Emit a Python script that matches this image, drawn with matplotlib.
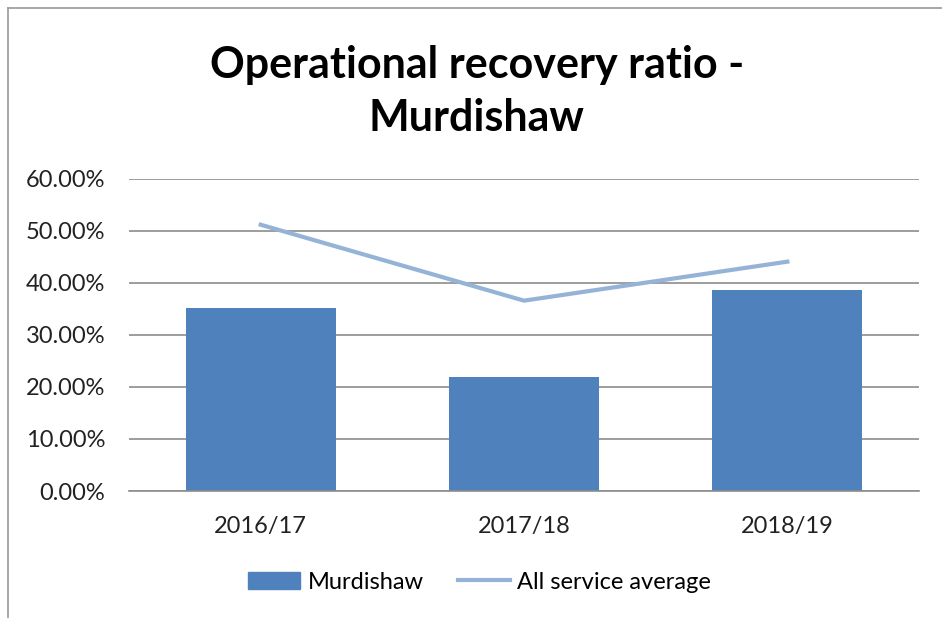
import matplotlib
matplotlib.use('Agg')
import matplotlib.pyplot as plt
from matplotlib.ticker import PercentFormatter
from matplotlib.lines import Line2D

years = ['2016/17', '2017/18', '2018/19']
murdishaw = [0.351, 0.220, 0.386]
service_avg = [0.512, 0.366, 0.441]

plt.rcParams['font.family'] = ['Lato', 'DejaVu Sans']

fig = plt.figure(figsize=(9.42, 6.18), dpi=100)
ax = fig.add_axes([0.137, 0.2055, 0.8386, 0.5049])

x = range(len(years))
ax.bar(x, murdishaw, width=0.57, color='#4F81BD', label='Murdishaw', zorder=2)
ax.plot(x, service_avg, color='#95B3D7', linewidth=3, label='All service average', zorder=3)

ax.set_xlim(-0.5, 2.5)
ax.set_ylim(0, 0.6)
ax.set_yticks([0, 0.1, 0.2, 0.3, 0.4, 0.5, 0.6])
ax.yaxis.set_major_formatter(PercentFormatter(xmax=1, decimals=2))
ax.set_xticks(list(x))
ax.set_xticklabels(years)
ax.tick_params(axis='both', length=0, labelsize=17, colors='#222222')
ax.tick_params(axis='y', pad=17)
ax.tick_params(axis='x', pad=18)
ax.grid(axis='y', color='#8c8c8c', linewidth=1.2, zorder=0)
for s in ['top', 'right', 'left']:
    ax.spines[s].set_visible(False)
ax.spines['bottom'].set_color('#8c8c8c')
ax.spines['bottom'].set_linewidth(1.2)

fig.text(0.506, 0.852, 'Operational recovery ratio -\nMurdishaw', ha='center', va='center',
         fontsize=31, fontweight='bold', linespacing=1.4)

handles = [plt.Rectangle((0, 0), 1, 1, color='#4F81BD'),
           Line2D([0], [0], color='#95B3D7', linewidth=3)]
fig.legend(handles, ['Murdishaw', 'All service average'], loc='center',
           bbox_to_anchor=(0.509, 0.058), ncol=2, frameon=False, fontsize=17,
           handlelength=2.2, handleheight=0.75, handletextpad=0.3, columnspacing=1.45)

# chart frame (top and left edges visible in the crop)
fig.add_artist(Line2D([0.0085, 0.0085], [0, 0.987], color='#9a9a9a', linewidth=1.2))
fig.add_artist(Line2D([0.0085, 1], [0.987, 0.987], color='#9a9a9a', linewidth=1.2))

fig.savefig('out.png', dpi=100)
